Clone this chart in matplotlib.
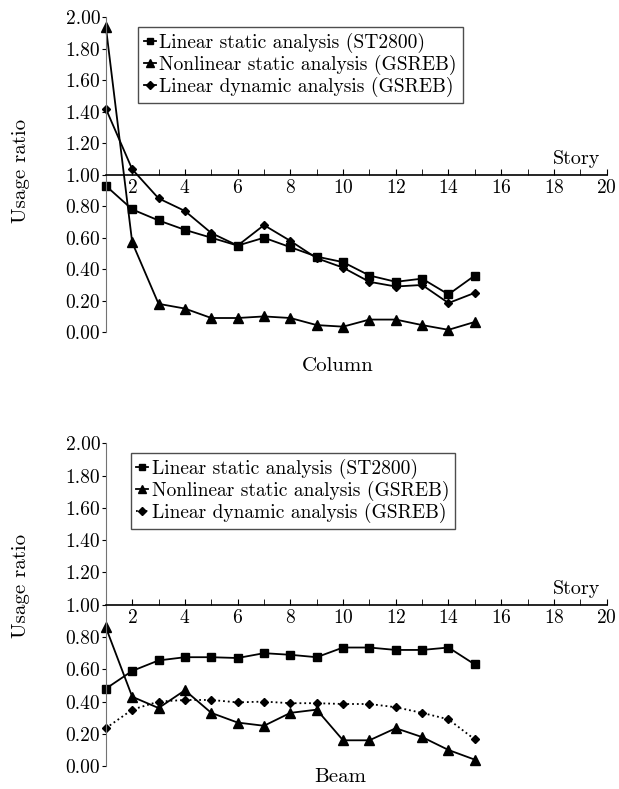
import matplotlib
matplotlib.use("Agg")
import matplotlib.pyplot as plt
from matplotlib.ticker import MultipleLocator, FormatStrFormatter

plt.rcParams['font.family'] = ['cmr10', 'DejaVu Serif']
plt.rcParams['axes.formatter.use_mathtext'] = True

stories = list(range(1, 16))

# Column
col_linear_static = [0.93, 0.78, 0.71, 0.65, 0.60, 0.55, 0.60, 0.54, 0.48, 0.445, 0.36, 0.32, 0.34, 0.24, 0.36]
col_nonlinear_static = [1.94, 0.57, 0.18, 0.15, 0.09, 0.09, 0.10, 0.09, 0.045, 0.035, 0.08, 0.08, 0.045, 0.015, 0.065]
col_linear_dynamic = [1.42, 1.035, 0.85, 0.77, 0.63, 0.55, 0.68, 0.58, 0.47, 0.41, 0.32, 0.29, 0.30, 0.185, 0.25]

# Beam
beam_linear_static = [0.48, 0.59, 0.655, 0.675, 0.675, 0.67, 0.70, 0.69, 0.675, 0.735, 0.735, 0.72, 0.72, 0.735, 0.63]
beam_nonlinear_static = [0.86, 0.43, 0.36, 0.47, 0.33, 0.27, 0.25, 0.33, 0.35, 0.16, 0.16, 0.235, 0.18, 0.10, 0.04]
beam_linear_dynamic = [0.235, 0.35, 0.40, 0.41, 0.41, 0.395, 0.40, 0.39, 0.39, 0.385, 0.385, 0.365, 0.33, 0.29, 0.165]

labels = ['Linear static analysis (ST2800)',
          'Nonlinear static analysis (GSREB)',
          'Linear dynamic analysis (GSREB)']


def draw(ax, static, nonlinear, dynamic, dyn_style, legend_x):
    ax.plot(stories, static, '-', marker='s', color='k', lw=1.3, ms=6, clip_on=False, label=labels[0])
    ax.plot(stories, nonlinear, '-', marker='^', color='k', lw=1.3, ms=7.5, clip_on=False, label=labels[1])
    ax.plot(stories, dynamic, dyn_style, marker='D', color='k', lw=1.3, ms=4.5, clip_on=False, label=labels[2])

    ax.set_xlim(1, 20)
    ax.set_ylim(0, 2.0)
    ax.spines['top'].set_visible(False)
    ax.spines['right'].set_visible(False)
    ax.spines['bottom'].set_position(('data', 1.0))
    ax.spines['bottom'].set_linewidth(1.2)
    ax.spines['left'].set_color('0.45')

    ax.xaxis.set_minor_locator(MultipleLocator(1))
    ax.set_xticks([2, 4, 6, 8, 10, 12, 14, 16, 18, 20])
    ax.tick_params(axis='x', which='both', direction='in', length=4, labelsize=14, pad=3)
    ax.yaxis.set_major_locator(MultipleLocator(0.2))
    ax.yaxis.set_major_formatter(FormatStrFormatter('%.2f'))
    ax.tick_params(axis='y', direction='out', length=3, labelsize=14, pad=1)

    ax.text(19.75, 1.04, 'Story', ha='right', va='bottom', fontsize=14.5)

    leg = ax.legend(loc='upper left', bbox_to_anchor=(legend_x, 1.0), fontsize=14,
                    handlelength=0.6, handletextpad=0.2, labelspacing=0.1,
                    borderpad=0.3, fancybox=False, framealpha=1, edgecolor='0.3',
                    markerscale=0.8)
    leg.get_frame().set_linewidth(1.0)


fig = plt.figure(figsize=(6.19, 7.89), dpi=100)
ax1 = fig.add_axes([0.171, 0.579, 0.809, 0.399])
ax2 = fig.add_axes([0.171, 0.029, 0.809, 0.409])

draw(ax1, col_linear_static, col_nonlinear_static, col_linear_dynamic, '-', 0.045)
draw(ax2, beam_linear_static, beam_nonlinear_static, beam_linear_dynamic, ':', 0.03)

fig.text(0.546, 0.536, 'Column', ha='center', va='center', fontsize=15)
fig.text(0.549, 0.015, 'Beam', ha='center', va='center', fontsize=15)
fig.text(0.034, 0.783, 'Usage ratio', ha='center', va='center', rotation=90, fontsize=15)
fig.text(0.034, 0.257, 'Usage ratio', ha='center', va='center', rotation=90, fontsize=15)

fig.savefig('out.png', dpi=100)
